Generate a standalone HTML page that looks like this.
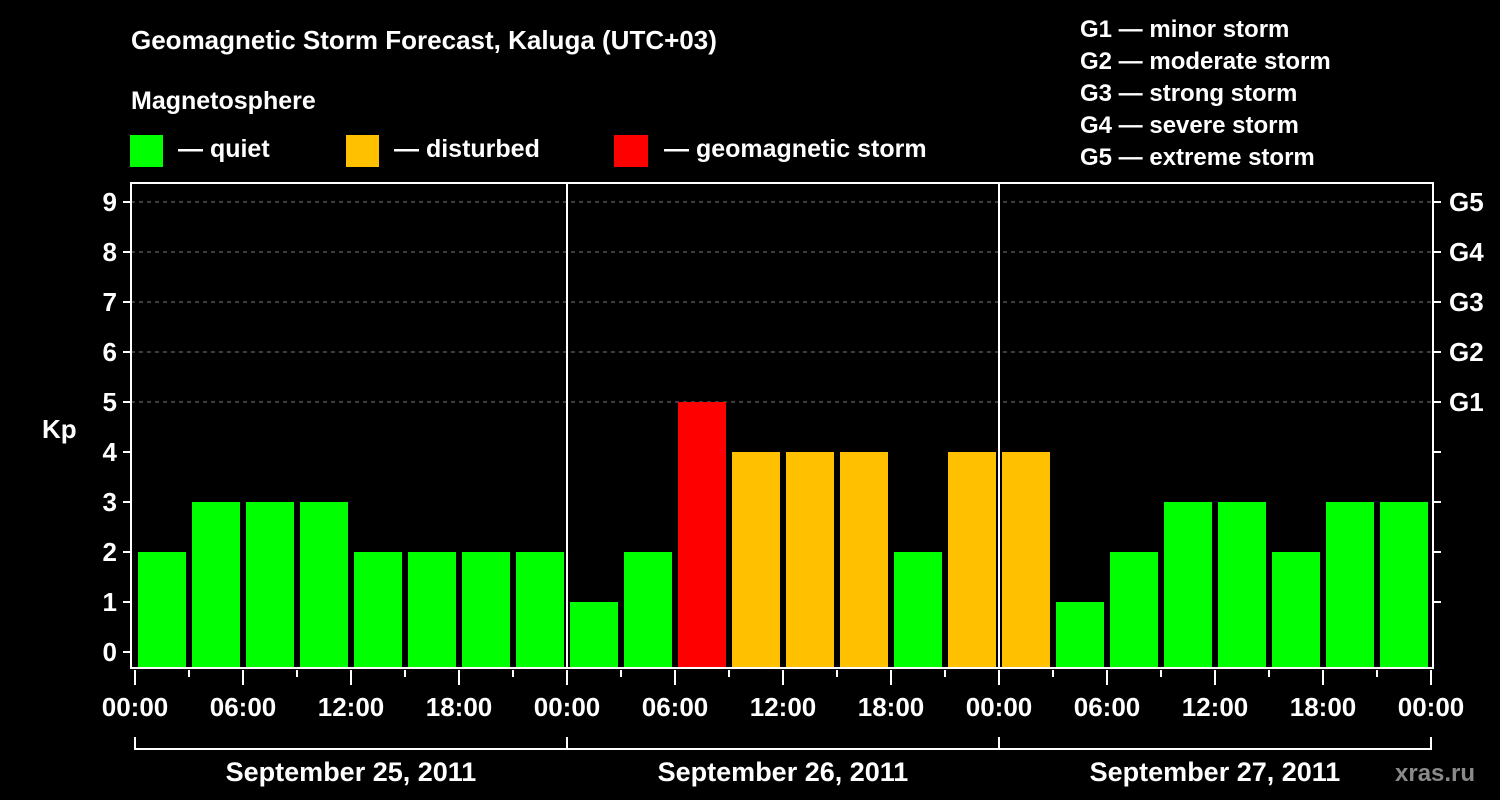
<!DOCTYPE html>
<html><head><meta charset="utf-8"><style>
html,body{margin:0;padding:0;background:#000;}
svg{display:block;}
text{font-family:"Liberation Sans",Arial,sans-serif;font-weight:bold;fill:#fff;}
</style></head><body>
<svg id="chart" width="1500" height="800" viewBox="0 0 1500 800">
<rect width="1500" height="800" fill="#000"/>
<text x="131" y="49" font-size="26">Geomagnetic Storm Forecast, Kaluga (UTC+03)</text>
<text x="131" y="109" font-size="25">Magnetosphere</text>
<g>
<rect x="130" y="135" width="33" height="32" fill="#00ff00"/>
<text x="178" y="157" font-size="25">— quiet</text>
<rect x="346" y="135" width="33" height="32" fill="#ffc000"/>
<text x="394" y="157" font-size="25">— disturbed</text>
<rect x="614" y="135" width="34" height="32" fill="#ff0000"/>
<text x="664" y="157" font-size="25">— geomagnetic storm</text>
</g>
<g font-size="24">
<text x="1080" y="37">G1 — minor storm</text>
<text x="1080" y="69">G2 — moderate storm</text>
<text x="1080" y="101">G3 — strong storm</text>
<text x="1080" y="133">G4 — severe storm</text>
<text x="1080" y="165">G5 — extreme storm</text>
</g>
<text x="42" y="438" font-size="26">Kp</text>
<text x="1395" y="781" font-size="24" fill="#888" style="fill:#8a8a8a">xras.ru</text>
<g id="plot"></g>
</svg>
<script>
const kpValues = [2,3,3,3,2,2,2,2, 1,2,5,4,4,4,2,4, 4,1,2,3,3,2,3,3];
const yTicks = [0,1,2,3,4,5,6,7,8,9];
const gLabels = ["","","","","","G1","G2","G3","G4","G5"];
const hourLabels = ["00:00","06:00","12:00","18:00"];
const dayLabels = ["September 25, 2011","September 26, 2011","September 27, 2011"];

const NS = "http://www.w3.org/2000/svg";
const plot = document.getElementById("plot");
const X0 = 135, PXH = 18, Y0 = 652, PXK = 50;
const L = 131, R = 1433, T = 183, B = 668;
const xs = h => X0 + h * PXH;
const ys = k => Y0 - k * PXK;
function mk(tag, attrs){ const e = document.createElementNS(NS, tag); for (const k in attrs) e.setAttribute(k, attrs[k]); plot.appendChild(e); return e; }
function color(v){ return v >= 5 ? "#ff0000" : (v >= 4 ? "#ffc000" : "#00ff00"); }

// grid
yTicks.forEach(k => {
  if (k >= 5) {
    const g = mk("line", {x1:L, x2:R, y1:ys(k), y2:ys(k), stroke:"#777", "stroke-dasharray":"4,4", "stroke-width":1});
    
    
  }
});
// bars
kpValues.forEach((v, i) => {
  const x1 = xs(i * 3) + 3, x2 = xs(i * 3 + 3) - 3;
  const b = mk("rect", {x:x1, y:ys(v), width:x2 - x1, height:B - ys(v), fill:color(v)});
  
  
});
// day separators
for (let d = 1; d < dayLabels.length; d++) {
  const s = mk("line", {x1:xs(d*24), x2:xs(d*24), y1:T, y2:B, stroke:"#fff", "stroke-width":2});
  
  
}
// frame
const fr = mk("rect", {x:L, y:T, width:R-L, height:B-T, fill:"none", stroke:"#fff", "stroke-width":2});


// y ticks
yTicks.forEach(k => {
  const t1 = mk("line", {x1:L-8, x2:L, y1:ys(k), y2:ys(k), stroke:"#fff", "stroke-width":2});
  
  
  const lt = mk("text", {x:L-14, y:ys(k)+9, "font-size":26, "text-anchor":"end"});
  lt.textContent = k;
  
  
  if (k >= 1) {
    const t2 = mk("line", {x1:R, x2:R+8, y1:ys(k), y2:ys(k), stroke:"#fff", "stroke-width":2});
    
    
  }
  if (gLabels[k]) {
    const gt = mk("text", {x:R+16, y:ys(k)+9, "font-size":26});
    gt.textContent = gLabels[k];
    
    
  }
});
// x ticks
const totalH = dayLabels.length * 24;
for (let h = 0; h <= totalH; h += 3) {
  const major = h % 6 === 0;
  const t = mk("line", {x1:xs(h), x2:xs(h), y1:B+2, y2:B + (major ? 17 : 9), stroke:"#fff", "stroke-width":2});
  
  
  if (major) {
    const lab = mk("text", {x:xs(h), y:716, "font-size":26, "text-anchor":"middle"});
    lab.textContent = hourLabels[(h % 24) / 6];
    
    
  }
}
// day brackets
const br = mk("path", {d:"M"+xs(0)+",737 V749 H"+xs(totalH)+" V737", fill:"none", stroke:"#fff", "stroke-width":2});


dayLabels.forEach((d, i) => {
  if (i > 0) {
    const v = mk("line", {x1:xs(i*24), x2:xs(i*24), y1:737, y2:749, stroke:"#fff", "stroke-width":2});
    
    
  }
  const t = mk("text", {x:xs(i*24+12), y:781, "font-size":27, "text-anchor":"middle"});
  t.textContent = d;
  
  
});
</script>
</body></html>
